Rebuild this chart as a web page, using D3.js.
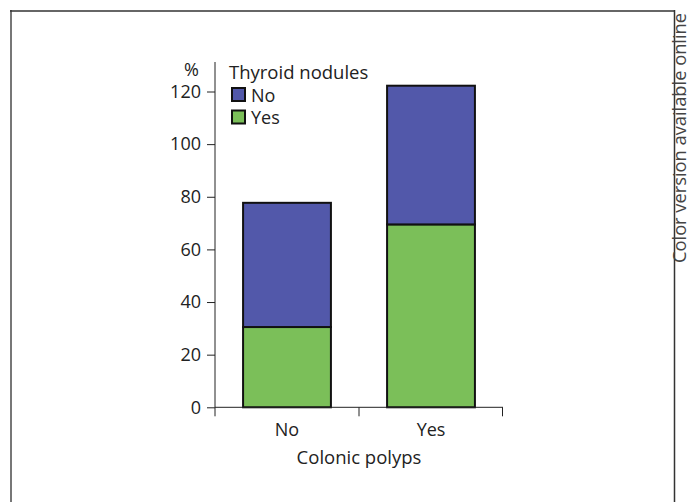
<!DOCTYPE html>
<html><head><meta charset="utf-8">
<script src="https://cdn.jsdelivr.net/npm/d3@7"></script>
<style>body{margin:0;background:#fff;} svg{display:block;font-family:"Open Sans",sans-serif;}</style>
</head><body>
<svg id="c" width="688" height="502"></svg>
<script>
const categories = ["No", "Yes"];
const seriesNames = ["Yes", "No"]; // stack order bottom to top (thyroid nodules)
const valuesYes = [30.5, 69.5];
const valuesNo = [47.2, 52.7];
const yTicks = [0, 20, 40, 60, 80, 100, 120];
const colors = {No: "#5258aa", Yes: "#7bbf59"};

const svg = d3.select("#c");
// frame
svg.append("line").attr("x1",11).attr("x2",11).attr("y1",10).attr("y2",502).attr("stroke","#777").attr("stroke-width",2);
svg.append("line").attr("x1",10).attr("x2",675).attr("y1",11).attr("y2",11).attr("stroke","#333").attr("stroke-width",1.5);
svg.append("line").attr("x1",674.5).attr("x2",674.5).attr("y1",10).attr("y2",502).attr("stroke","#333").attr("stroke-width",1.5);

const x = d3.scaleBand().domain(categories).range([215, 503]).paddingInner(0.39).paddingOuter(0.195);
const y = d3.scaleLinear().domain([0, 120]).range([407.3, 91.5]);

const data = categories.map((c,i)=>({cat:c, Yes:valuesYes[i], No:valuesNo[i]}));
const stack = d3.stack().keys(seriesNames)(data);

const g = svg.append("g");
stack.forEach(layer=>{
  g.selectAll(null).data(layer).join("rect")
    .attr("x", d=>x(d.data.cat))
    .attr("width", x.bandwidth())
    .attr("y", d=>y(d[1]))
    .attr("height", d=>y(d[0])-y(d[1]))
    .attr("fill", colors[layer.key])
    .attr("stroke","#111").attr("stroke-width",2);
});

// y axis
const yAxis = d3.axisLeft(y).tickValues(yTicks).tickSize(8).tickPadding(6);
const ya = svg.append("g").attr("transform","translate(215,0)").call(yAxis);
ya.select(".domain").attr("d","M0,62V407.3").attr("stroke","#222");
ya.selectAll(".tick line").attr("stroke","#222");
ya.selectAll(".tick text").attr("font-size",18).attr("fill","#222").attr("font-family","'Open Sans',sans-serif");

// x axis
const xa = svg.append("g").attr("transform","translate(0,407.3)");
xa.append("line").attr("x1",215).attr("x2",503).attr("y1",0).attr("y2",0).attr("stroke","#222");
[215, 359, 502.5].forEach(t=>xa.append("line").attr("x1",t).attr("x2",t).attr("y1",0).attr("y2",9).attr("stroke","#222"));
categories.forEach(c=>{
  xa.append("text").attr("x", x(c)+x.bandwidth()/2).attr("y",28.5).attr("text-anchor","middle")
    .attr("font-size",18).attr("fill","#222").text(c);
});
svg.append("text").attr("x",359).attr("y",464).attr("text-anchor","middle").attr("font-size",18.5).attr("fill","#222").text("Colonic polyps");
svg.append("text").attr("x",199).attr("y",76).attr("text-anchor","end").attr("font-size",18).attr("fill","#222").text("%");

// legend
svg.append("text").attr("x",229).attr("y",79).attr("font-size",18.5).attr("fill","#222").text("Thyroid nodules");
const legendItems = ["No","Yes"];
legendItems.forEach((k,i)=>{
  svg.append("rect").attr("x",232).attr("y",88+i*22.5).attr("width",13).attr("height",13)
    .attr("fill",colors[k]).attr("stroke","#111").attr("stroke-width",2);
  svg.append("text").attr("x",251).attr("y",101.5+i*22.5).attr("font-size",18).attr("fill","#222").text(k);
});

// side note (clipped at the right edge like the reference)
svg.append("text").attr("transform","translate(686,263) rotate(-90)").attr("font-size",18.3).attr("fill","#444").text("Color version available online");
</script>
</body></html>
